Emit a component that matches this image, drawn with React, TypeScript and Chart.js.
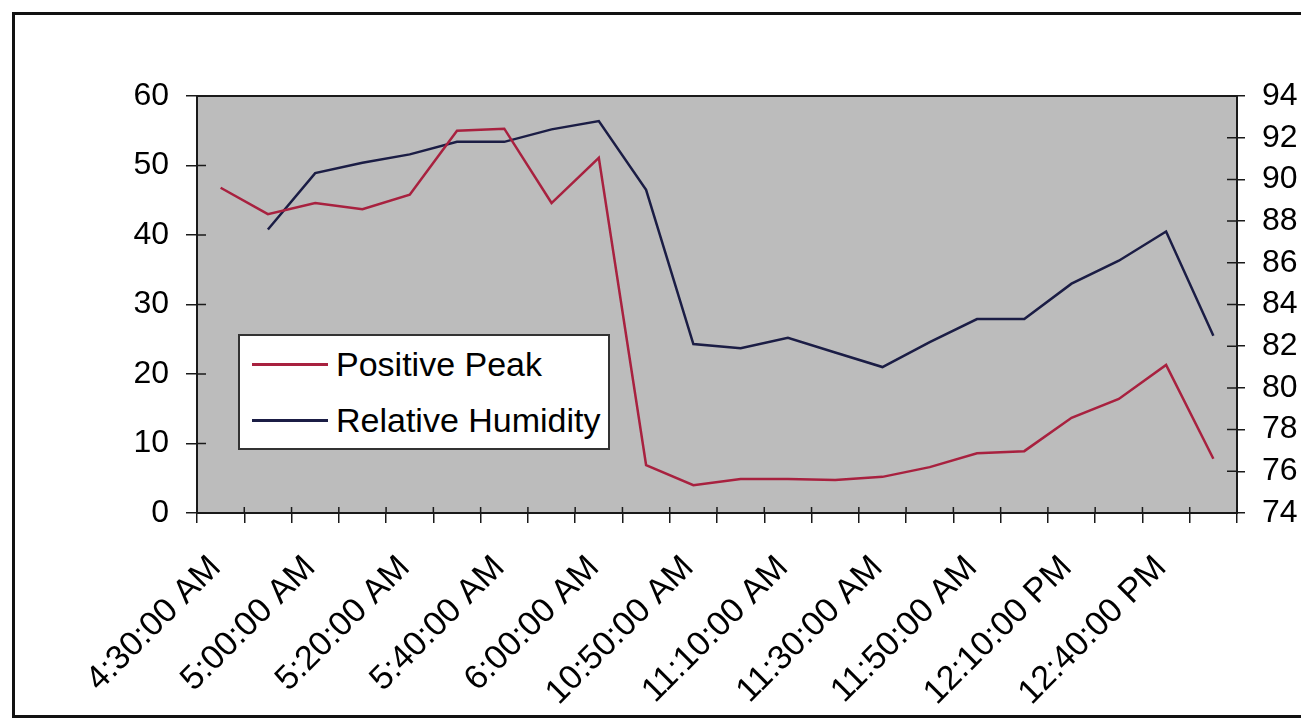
import React, { useEffect, useRef } from "react";
import { Chart, registerables } from "chart.js";

Chart.register(...registerables);

// ---- Data ----
const categories: string[] = [
  "4:30:00 AM", "4:50:00 AM", "5:00:00 AM", "5:10:00 AM", "5:20:00 AM", "5:30:00 AM",
  "5:40:00 AM", "5:50:00 AM", "6:00:00 AM", "10:40:00 AM", "10:50:00 AM", "11:00:00 AM",
  "11:10:00 AM", "11:20:00 AM", "11:30:00 AM", "11:40:00 AM", "11:50:00 AM", "12:00:00 PM",
  "12:10:00 PM", "12:30:00 PM", "12:40:00 PM", "12:50:00 PM",
];

const positivePeak: number[] = [
  46.8, 43.0, 44.6, 43.7, 45.8, 55.0, 55.3, 44.6, 51.1, 6.9, 4.0, 4.9,
  4.9, 4.75, 5.2, 6.6, 8.6, 8.9, 13.7, 16.4, 21.3, 7.8,
];

const relativeHumidity: (number | null)[] = [
  null, 87.6, 90.3, 90.8, 91.2, 91.8, 91.8, 92.4, 92.8, 89.5, 82.1, 81.9,
  82.4, 81.7, 81.0, 82.2, 83.3, 83.3, 85.0, 86.1, 87.5, 82.5,
];

const leftAxis = { min: 0, max: 60, step: 10 };
const rightAxis = { min: 74, max: 94, step: 2 };

const seriesNames = ["Positive Peak", "Relative Humidity"];
const seriesColors = ["#a8213f", "#1b1d45"];

const FONT = "'Liberation Sans', Arial, Helvetica, sans-serif";
const AXIS_COLOR = "#1a1a1a";

const plotDecor = {
  id: "plotDecor",
  beforeDraw(chart: any) {
    const { ctx, chartArea } = chart;
    ctx.save();
    ctx.fillStyle = "#bcbcbc";
    ctx.fillRect(chartArea.left, chartArea.top, chartArea.right - chartArea.left, chartArea.bottom - chartArea.top);
    ctx.restore();
  },
  afterDraw(chart: any) {
    const { ctx, chartArea } = chart;
    const { left, right, top, bottom } = chartArea;
    ctx.save();
    ctx.strokeStyle = AXIS_COLOR;
    ctx.lineWidth = 2;
    ctx.strokeRect(left, top, right - left, bottom - top);
    ctx.lineWidth = 1.5;
    ctx.beginPath();
    const y = chart.scales.y;
    y.ticks.forEach((_t: any, i: number) => {
      const p = y.getPixelForTick(i);
      ctx.moveTo(left, p);
      ctx.lineTo(left + 9, p);
    });
    const y1 = chart.scales.y1;
    y1.ticks.forEach((_t: any, i: number) => {
      const p = y1.getPixelForTick(i);
      ctx.moveTo(right - 10, p);
      ctx.lineTo(right, p);
    });
    const x = chart.scales.x;
    const n = categories.length;
    for (let i = 0; i <= n; i++) {
      const p = i === 0 ? x.left : i === n ? x.right : (x.getPixelForValue(i - 1) + x.getPixelForValue(i)) / 2;
      ctx.moveTo(p, bottom - 6);
      ctx.lineTo(p, bottom);
    }
    ctx.stroke();
    ctx.restore();
  },
};

export default function App() {
  const canvasRef = useRef<HTMLCanvasElement | null>(null);

  useEffect(() => {
    if (!canvasRef.current) return;
    const chart = new Chart(canvasRef.current, {
      type: "line",
      data: {
        labels: categories,
        datasets: [
          {
            label: seriesNames[0],
            data: positivePeak,
            borderColor: seriesColors[0],
            backgroundColor: seriesColors[0],
            borderWidth: 2.5,
            pointRadius: 0,
            tension: 0,
            yAxisID: "y",
          },
          {
            label: seriesNames[1],
            data: relativeHumidity,
            borderColor: seriesColors[1],
            backgroundColor: seriesColors[1],
            borderWidth: 2.5,
            pointRadius: 0,
            tension: 0,
            yAxisID: "y1",
          },
        ],
      },
      options: {
        responsive: false,
        animation: false,
        layout: { padding: { left: 0, right: 0, top: 96, bottom: 0 } },
        plugins: {
          legend: { display: false },
          tooltip: { enabled: false },
          title: { display: false },
        },
        scales: {
          x: {
            type: "category",
            offset: true,
            grid: {
              display: true,
              offset: true,
              drawOnChartArea: false,
              drawTicks: true,
              tickLength: 10,
              color: AXIS_COLOR,
              lineWidth: 1.5,
            },
            border: { display: true, color: AXIS_COLOR, width: 2 },
            ticks: {
              autoSkip: false,
              maxRotation: 45,
              minRotation: 45,
              padding: 25,
              labelOffset: -5,
              color: "#000",
              font: { family: FONT, size: 34 },
              callback: (_v: any, i: number) => (i % 2 === 0 ? categories[i] : ""),
            },
            afterFit: (s: any) => {
              s.height = 214;
            },
          },
          y: {
            position: "left",
            min: leftAxis.min,
            max: leftAxis.max,
            grid: {
              display: true,
              drawOnChartArea: false,
              tickLength: 11,
              color: AXIS_COLOR,
              lineWidth: 1.5,
            },
            border: { display: true, color: AXIS_COLOR, width: 2 },
            ticks: {
              stepSize: leftAxis.step,
              padding: 17,
              color: "#000",
              font: { family: FONT, size: 32 },
            },
            afterFit: (s: any) => {
              s.width = 197;
            },
          },
          y1: {
            position: "right",
            min: rightAxis.min,
            max: rightAxis.max,
            grid: {
              display: true,
              drawOnChartArea: false,
              tickLength: 8,
              color: AXIS_COLOR,
              lineWidth: 1.5,
            },
            border: { display: true, color: AXIS_COLOR, width: 2 },
            ticks: {
              stepSize: rightAxis.step,
              padding: 17,
              color: "#000",
              font: { family: FONT, size: 32 },
            },
            afterFit: (s: any) => {
              s.width = 64;
            },
          },
        },
      },
      plugins: [plotDecor],
    });
    return () => chart.destroy();
  }, []);

  const legendRow = (color: string, text: string) => (
    <div style={{ display: "flex", alignItems: "center", height: 56 }}>
      <div style={{ width: 76, height: 0, borderTop: `3px solid ${color}`, marginLeft: 12, marginRight: 8 }} />
      <span style={{ fontFamily: FONT, fontSize: 34, color: "#000", whiteSpace: "nowrap" }}>{text}</span>
    </div>
  );

  return (
    <div style={{ position: "absolute", left: 0, top: 0, width: 1301, height: 727, overflow: "hidden", background: "#fff" }}>
      <canvas ref={canvasRef} width={1301} height={727} style={{ position: "absolute", left: 0, top: 0, width: 1301, height: 727 }} />
      <div
        style={{
          position: "absolute",
          left: 12,
          top: 12,
          width: 1320,
          height: 700,
          borderLeft: "3px solid #111",
          borderTop: "3px solid #111",
          borderBottom: "3px solid #111",
          pointerEvents: "none",
        }}
      />
      <div
        style={{
          position: "absolute",
          left: 238,
          top: 334,
          width: 368,
          height: 112,
          background: "#fff",
          border: "2px solid #333",
          boxSizing: "content-box",
          display: "flex",
          flexDirection: "column",
          justifyContent: "center",
        }}
      >
        {legendRow(seriesColors[0], seriesNames[0])}
        {legendRow(seriesColors[1], seriesNames[1])}
      </div>
    </div>
  );
}
